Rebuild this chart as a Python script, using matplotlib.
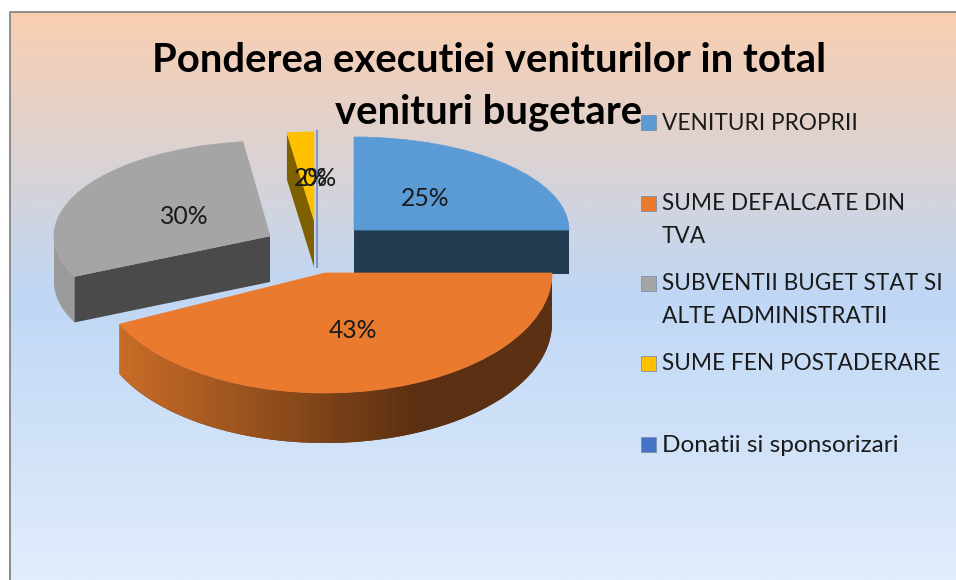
import numpy as np
from matplotlib import pyplot as plt
from matplotlib.colors import LinearSegmentedColormap
from matplotlib.patches import Polygon, Rectangle
from matplotlib.transforms import Affine2D

plt.rcParams['font.family'] = ['Lato', 'DejaVu Sans']

title_lines = ["Ponderea executiei veniturilor in total", "venituri bugetare"]
categories = ["VENITURI PROPRII", "SUME DEFALCATE DIN\nTVA", "SUBVENTII BUGET STAT SI\nALTE ADMINISTRATII",
              "SUME FEN POSTADERARE", "Donatii si sponsorizari"]
values = [25, 43, 30, 2, 0]
top_colors = ["#5b9bd5", "#ea7a2e", "#a5a5a5", "#ffc000", "#4472c4"]
face_colors = ["#233c52", "#5c3012", "#4a4a4a", "#7f6000", "#8096c8"]
rim_colors = ["#233c52", "#5c3012", "#9a9a9a", "#7f6000", "#8096c8"]

# centre x, centre y, radius x, radius y, depth (pixels), one per slice
geometry = [(354, 230, 215, 93, 44),
            (325, 273, 227, 120, 50),
            (270, 236, 216, 95, 46),
            (314, 220, 216, 88, 47),
            (317, 220, 216, 89, 47)]
label_pos = [(425, 198), (353, 331), (184, 216), (311, 179), (319, 179)]
legend_y = [122, 203, 283, 363, 444]
legend_size = [16.3, 16.3, 16.3, 16.3, 17.6]
draw_order = [2, 3, 4, 0, 1]


def ellipse_xy(g, theta):
    theta = np.radians(theta)
    return g[0] + g[2] * np.cos(theta), g[1] - g[3] * np.sin(theta)


def outer_side(g, t1, t2):
    # band under the visible front part of the arc
    t = np.linspace(t1, t2, 80)
    x, y = ellipse_xy(g, t)
    return np.column_stack([np.r_[x, x[::-1]], np.r_[y, y[::-1] + g[4]]])


def radial_face(g, theta):
    x, y = ellipse_xy(g, theta)
    return [(g[0], g[1]), (x, y), (x, y + g[4]), (g[0], g[1] + g[4])]


fig = plt.figure(figsize=(9.56, 5.8), dpi=100, facecolor="white")
ax = fig.add_axes([0, 0, 1, 1])

wedges, _ = ax.pie(values, colors=top_colors, startangle=90, counterclock=False)
ax.set_aspect("auto")
ax.set_xlim(0, 956)
ax.set_ylim(580, 0)
ax.axis("off")

# panel background
bg = LinearSegmentedColormap.from_list("bg", [(0, "#f9ceb0"), (0.5, "#bfd7f5"), (1, "#e1edfc")])
ax.imshow(np.linspace(0, 1, 400)[:, None], cmap=bg, extent=(10, 956, 580, 12), aspect="auto", zorder=0)
ax.set_xlim(0, 956)
ax.set_ylim(580, 0)
ax.plot([10, 10, 956], [580, 12, 12], color="#8c8c8c", lw=1.4, zorder=1)

z = 2
for i in draw_order:
    g = geometry[i]
    w = wedges[i]
    t1, t2 = w.theta1, w.theta2

    if values[i] == 0:
        # empty slice only shows as a thin line
        x, y = ellipse_xy(g, t1)
        ax.plot([x, x], [y, g[1] + g[4]], color=rim_colors[i], lw=1.5, zorder=z)
        w.set_visible(False)
        z += 1
        continue

    # front rim, only the part of the arc below the centre line
    lo, hi = max(t1, -180), min(t2, 0)
    if lo < hi:
        side = Polygon(outer_side(g, lo, hi), closed=True, fc=rim_colors[i], ec="none", zorder=z)
        ax.add_patch(side)
        if i == 1:
            # rim of the orange slice gets darker towards the right
            rim = LinearSegmentedColormap.from_list("rim", [(0, "#c96d28"), (0.68, "#5c3012"), (1, "#5c3012")])
            im = ax.imshow(np.linspace(0, 1, 300)[None, :], cmap=rim, extent=(118, 556, 460, 270),
                           aspect="auto", zorder=z)
            im.set_clip_path(side)
            ax.set_xlim(0, 956)
            ax.set_ylim(580, 0)
    z += 1

    # cut faces that turn towards the viewer
    for theta, normal in ((t1, t1 - 90), (t2, t2 + 90)):
        if np.sin(np.radians(normal)) < -1e-6:
            ax.add_patch(Polygon(radial_face(g, theta), closed=True, fc=face_colors[i], ec="none", zorder=z))
    z += 1

    w.set_transform(Affine2D().scale(g[2], -g[3]).translate(g[0], g[1]) + ax.transData)
    w.set_edgecolor(top_colors[i])
    w.set_linewidth(0.5)
    w.set_zorder(z)
    z += 1

for v, (x, y) in zip(values, label_pos):
    ax.text(x, y, "%d%%" % v, fontsize=17.8, color="#1a1a1a", ha="center", va="center", zorder=40)

ax.text(489, 60, title_lines[0], fontsize=28.8, fontweight="bold", color="black", ha="center", va="center", zorder=41)
ax.text(489, 112, title_lines[1], fontsize=28.8, fontweight="bold", color="black", ha="center", va="center", zorder=41)

# legend is placed by hand, the lines are further apart than a normal legend
for i, name in enumerate(categories):
    y = legend_y[i]
    ax.add_patch(Rectangle((641, y - 7.5), 15, 15, fc=top_colors[i], ec="#7f8fa5", lw=0.6, zorder=42))
    for k, line in enumerate(name.split("\n")):
        ax.text(662, y + 1 + k * 32.5, line, fontsize=legend_size[i], color="#1a1a1a", ha="left", va="center", zorder=42)

fig.savefig("out.png", dpi=100, facecolor="white")
